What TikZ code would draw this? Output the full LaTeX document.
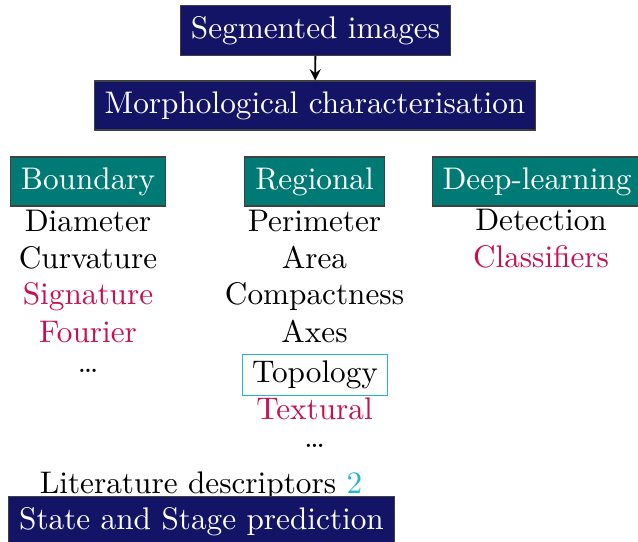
\documentclass[tikz,border=0pt]{standalone}
\usepackage{tikz}
\usetikzlibrary{positioning}
\definecolor{boxnavy}{HTML}{141466}
\definecolor{boxteal}{HTML}{007A74}
\definecolor{itemred}{HTML}{C8104E}
\definecolor{itemcyan}{HTML}{20B6D4}

\tikzset{
	mainbox/.style={
		draw=black!75,
		fill=boxnavy,
		text=white,
		line width=0.4pt
	},
	groupbox/.style={
		draw=black!75,
		fill=boxteal,
		text=white,
		line width=0.4pt
	},
	item/.style={anchor=base, inner sep=0pt},
	newitem/.style={item, text=itemred}
}

\begin{document}
\begin{tikzpicture}[>=stealth, x=0.32pt, y=-0.32pt]
				\useasboundingbox (0,0) rectangle (638,541);
				% top of the pipeline
				\node[mainbox] (segmented) at (315.5,30.5) {Segmented images};
				\node[mainbox] (morpho) at (315,105.5) {Morphological characterisation};
				\draw[->, line width=0.6pt] (segmented) -- (morpho);
				% the three families
				\node[groupbox] (boundary) at (88,181.5) {Boundary};
				\node[groupbox] (regional) at (314.5,181.5) {Regional};
				\node[groupbox] (deep) at (537,181.5) {Deep-learning};
				% boundary descriptors
				\node[item] (diameter) at (88,231) {Diameter};
				\node[item] (curvature) at (88,268) {Curvature};
				\node[newitem] (signature) at (88,304) {Signature};
				\node[newitem] (fourier) at (88,342) {Fourier};
				\node[item] (bdots) at (88,372) {\dots};
				% regional descriptors
				\node[item] (perimeter) at (314.5,231) {Perimeter};
				\node[item] (area) at (314.5,268) {Area};
				\node[item] (compact) at (314.5,304) {Compactness};
				\node[item] (axes) at (314.5,342) {Axes};
				\node[
					draw=itemcyan,
					inner xsep=3pt,
					inner ysep=2pt
				] (topology) at (315,375) {Topology};
				\node[newitem] (textural) at (314.5,419) {Textural};
				\node[item] (rdots) at (314.5,447) {\dots};
				% deep-learning descriptors
				\node[item] (detection) at (541,230) {Detection};
				\node[newitem] (classifiers) at (541,267) {Classifiers};
				% bottom
				\node[item] (literature) at (201,493) {Literature descriptors \textcolor{itemcyan}{2}};
				\node[mainbox] (prediction) at (201.5,521.5) {State and Stage prediction};
			\end{tikzpicture}
\end{document}
